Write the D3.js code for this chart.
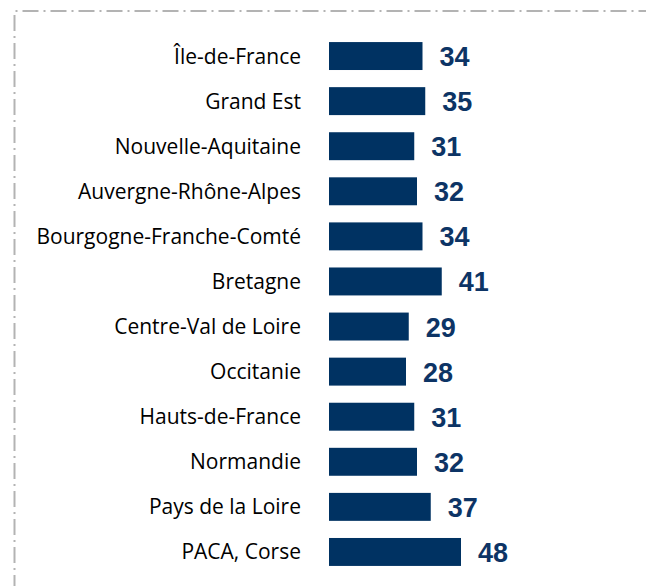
<!DOCTYPE html>
<html>
<head>
<meta charset="utf-8">
<script src="https://cdn.jsdelivr.net/npm/d3@7"></script>
<style>
body { margin: 0; background: #fff; }
</style>
</head>
<body>
<script>

var regions = ["Île-de-France", "Grand Est", "Nouvelle-Aquitaine", "Auvergne-Rhône-Alpes",
  "Bourgogne-Franche-Comté", "Bretagne", "Centre-Val de Loire", "Occitanie",
  "Hauts-de-France", "Normandie", "Pays de la Loire", "PACA, Corse"]
var values = [34, 35, 31, 32, 34, 41, 29, 28, 31, 32, 37, 48]

var width = 646, height = 586

var svg = d3.select("body").append("svg").attr("width", width).attr("height", height)

// dash-dot frame
svg.append("path")
  .attr("d", "M14.5," + (height + 5) + " L14.5,11 L" + (width + 5) + ",11")
  .attr("fill", "none")
  .attr("stroke", "#b3b3b3")
  .attr("stroke-width", 2)
  .attr("stroke-dasharray", "16,5,2,5")

var x = d3.scaleLinear().domain([0, 10]).range([329, 356.5])

var y = d3.scaleBand()
  .domain(regions)
  .range([33.5, 574.5])
  .paddingInner(0.38)
  .paddingOuter(0.19)

var data = regions.map(function(r, i) { return {name: r, value: values[i]} })

svg.selectAll("rect.bar").data(data).enter().append("rect")
  .attr("class", "bar")
  .attr("x", x(0))
  .attr("y", function(d) { return y(d.name) })
  .attr("width", function(d) { return x(d.value) - x(0) })
  .attr("height", y.bandwidth())
  .attr("fill", "#003262")

svg.selectAll("text.val").data(data).enter().append("text")
  .attr("class", "val")
  .attr("x", function(d) { return x(d.value) + 17 })
  .attr("y", function(d) { return y(d.name) + y.bandwidth() / 2 + 10 })
  .attr("font-family", "Liberation Sans, Arial, sans-serif")
  .attr("font-weight", "bold")
  .attr("font-size", "27px")
  .attr("fill", "#0d3465")
  .text(function(d) { return d.value })

svg.selectAll("text.lab").data(data).enter().append("text")
  .attr("class", "lab")
  .attr("x", 301)
  .attr("y", function(d) { return y(d.name) + y.bandwidth() / 2 + 7.5 })
  .attr("text-anchor", "end")
  .attr("font-family", "Open Sans, sans-serif")
  .attr("font-size", "21px")
  .attr("fill", "#000")
  .text(function(d) { return d.name })

</script>
</body>
</html>
